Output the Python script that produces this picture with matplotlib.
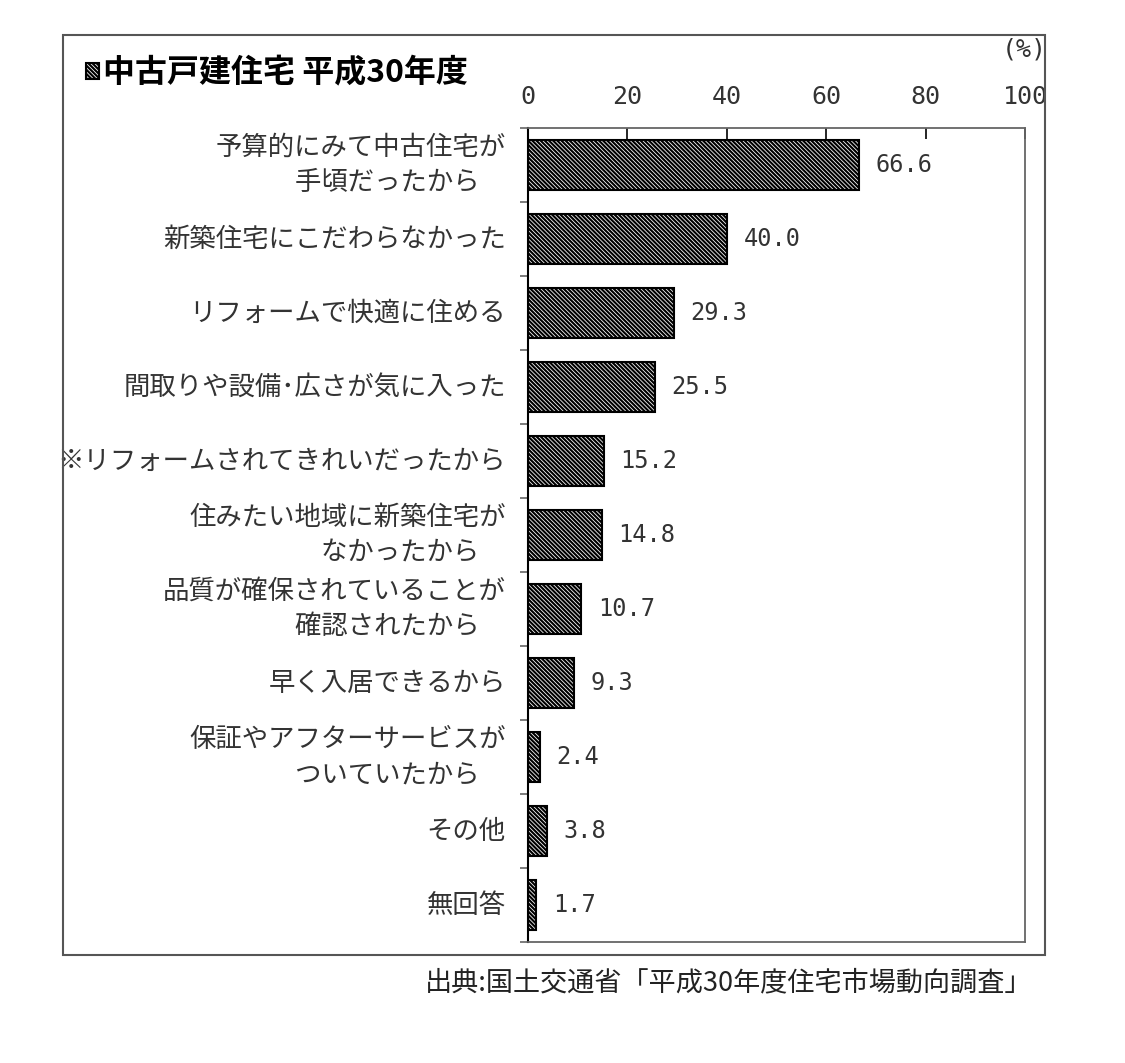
import matplotlib.pyplot as plt
from matplotlib.patches import Rectangle

# fonts: Japanese first, DejaVu as fallback
plt.rcParams['font.family'] = ['Noto Sans CJK JP', 'DejaVu Sans']
plt.rcParams['hatch.linewidth'] = 1.55

# --- data ---
categories = [
    "予算的にみて中古住宅が\n手頃だったから\u3000",
    "新築住宅にこだわらなかった",
    "リフォームで快適に住める",
    "間取りや設備\uff65広さが気に入った",
    "※リフォームされてきれいだったから",
    "住みたい地域に新築住宅が\nなかったから\u3000",
    "品質が確保されていることが\n確認されたから\u3000",
    "早く入居できるから",
    "保証やアフターサービスが\nついていたから\u3000",
    "その他",
    "無回答",
]
values = [66.6, 40.0, 29.3, 25.5, 15.2, 14.8, 10.7, 9.3, 2.4, 3.8, 1.7]
x_ticks = [0, 20, 40, 60, 80, 100]
legend_label = "中古戸建住宅 平成30年度"
source_text = "出典:国土交通省「平成30年度住宅市場動向調査」"

# --- figure ---
fig = plt.figure(figsize=(11.25, 10.63), dpi=100)
ax = fig.add_axes([0.4693, 0.1138, 0.4418, 0.7658])

ypos = list(range(len(categories)))
bars = ax.barh(ypos, values, height=0.67, color='white', edgecolor='black',
               linewidth=1.5, hatch='\\' * 8, label=legend_label)
ax.bar_label(bars, fmt='%.1f', padding=12, fontsize=17,
             family='DejaVu Sans Mono', color='#333333')

ax.set_xlim(0, 100)
ax.set_ylim(len(categories) - 0.5, -0.5)

# x axis on top, ticks inward
ax.set_xticks(x_ticks)
ax.xaxis.tick_top()
ax.tick_params(axis='x', direction='in', length=8, width=1.2, pad=14,
               labelsize=18, labelcolor='#333333')
for lab in ax.get_xticklabels():
    lab.set_family('DejaVu Sans Mono')

# y axis: labels at centres, tick marks at the category boundaries
ax.set_yticks(ypos, categories)
ax.tick_params(axis='y', which='major', length=0, pad=16, labelsize=19,
               labelcolor='#333333')
for lab in ax.get_yticklabels():
    lab.set_linespacing(1.4)
    lab.set_verticalalignment('center')
ax.set_yticks([i - 0.5 for i in range(len(categories) + 1)], minor=True)
ax.tick_params(axis='y', which='minor', length=6, direction='out',
               width=1.2, color='#666666')

ax.spines['left'].set_linewidth(1.5)
for side in ['top', 'right', 'bottom']:
    ax.spines[side].set_color('#666666')
    ax.spines[side].set_linewidth(1.3)

# legend used as the chart heading
fig.legend(handles=[bars], labels=[legend_label], loc='center left',
           bbox_to_anchor=(70 / 1125, 1 - 73 / 1063), frameon=False,
           borderpad=0, handlelength=0.4, handleheight=0.4,
           handletextpad=0.12, prop={'size': 23, 'weight': 'bold'})

fig.text(1024 / 1125, 1 - 50 / 1063, "(%)", ha='center', va='center',
         fontsize=18, family='DejaVu Sans Mono', color='#333333')
fig.text(1032 / 1125, 1 - 983 / 1063, source_text, ha='right', va='center',
         fontsize=19.5, color='#222222')

# outer frame
fig.patches.append(Rectangle((63 / 1125, 1 - 955 / 1063), 982 / 1125, 920 / 1063,
                             transform=fig.transFigure, fill=False,
                             edgecolor='#555555', linewidth=1.5))

fig.savefig('out.png', dpi=100)
